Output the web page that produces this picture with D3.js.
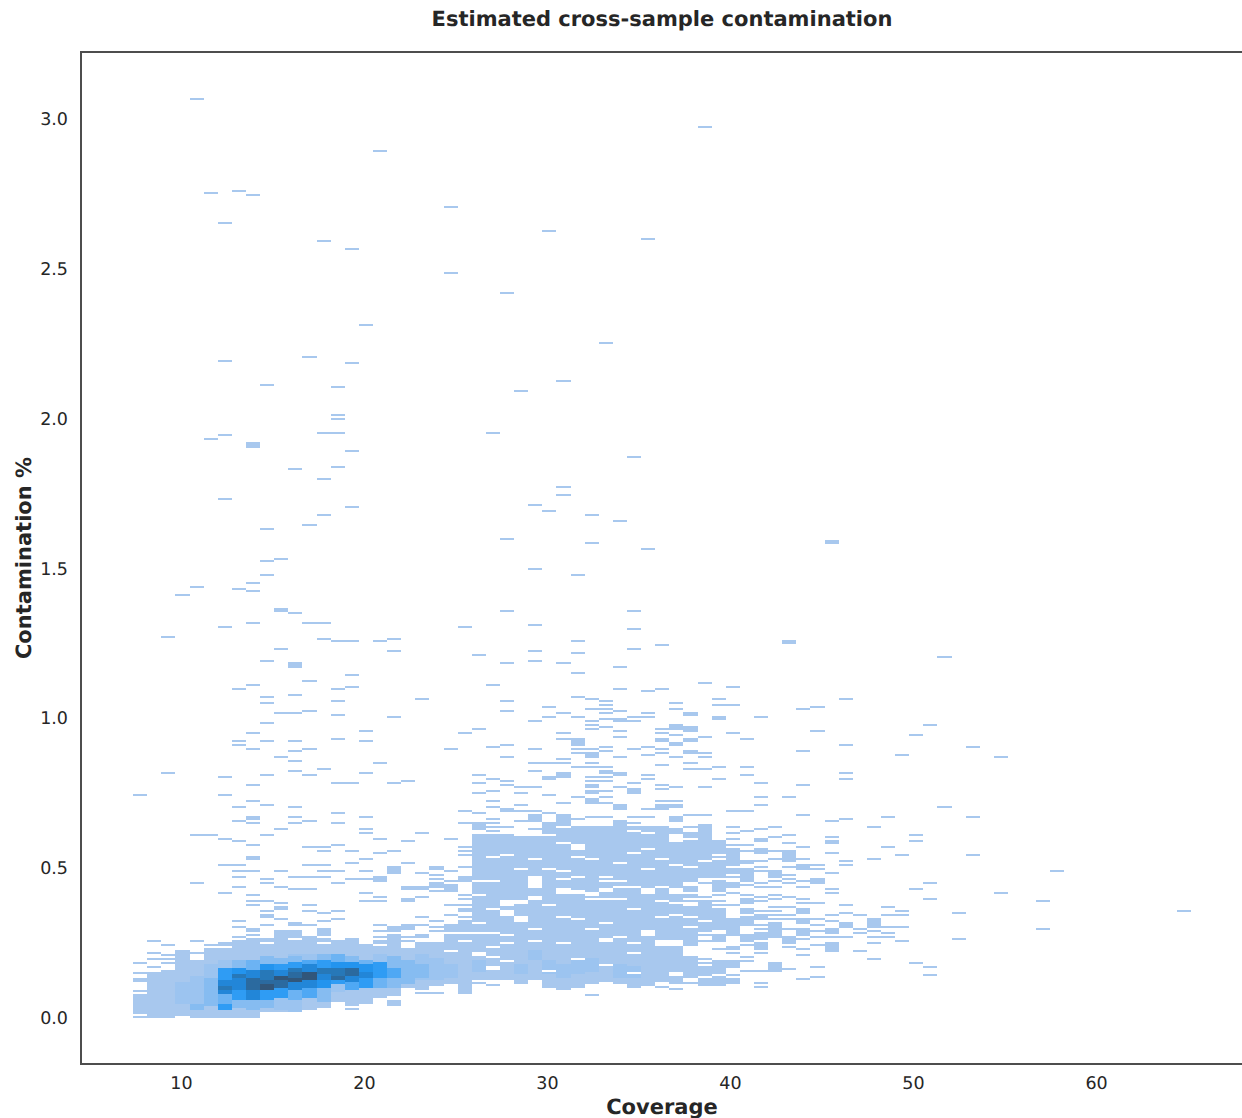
<!DOCTYPE html>
<html lang="en">
<head>
<meta charset="UTF-8">
<title>Estimated cross-sample contamination</title>
<script src="https://cdn.jsdelivr.net/npm/d3@7"></script>
<style>
    html, body { margin: 0; padding: 0; background: #fff; overflow: hidden; }
    text { font-family: "DejaVu Sans", sans-serif; fill: #262626; text-rendering: geometricPrecision; }
    .axis text { font-size: 17.5px; }
    .axis path, .axis line { display: none; }
    .label { font-size: 21px; font-weight: bold; }
</style>
</head>
<body>
<div id="chart"></div>
<script>
// histogram bins
var coverageStart = 7.39, coverageStep = 0.771, contamStep = 0.00667;

var xTicks = [10, 20, 30, 40, 50, 60];
var yTicks = [0, 0.5, 1, 1.5, 2, 2.5, 3];

// contamination of the lone count-1 cells, one list per coverage bin
var singleCells = [
/* 0*/ [.747,.186,.151,.131,.121,.091,.006],
/* 1*/ [.258,.217,.197,.171],
/* 2*/ [1.273,.82,.246,.21,.197,.186],
/* 3*/ [1.413,.008],
/* 4*/ [3.067,1.44,.607,.447,.258,.216],
/* 5*/ [2.753,1.933,.607,.246],
/* 6*/ [2.653,2.193,1.947,1.733,1.307,.807,.747,.6,.513,.42],
/* 7*/ [2.76,1.433,1.1,.927,.913,.707,.66,.593,.513,.493,.467,.437,.324,.304],
/* 8*/ [2.747,1.453,1.427,1.32,1.113,.953,.9,.78,.727,.653,.58,.487,.41,.393,.377,.379,.278],
/* 9*/ [2.113,1.633,1.527,1.48,1.193,1.07,1.053,.987,.927,.813,.713,.61,.463,.45,.393,.36,.312],
/*10*/ [1.533,1.233,1.017,.873,.633,.493,.437,.383,.367,.386,.366,.332],
/*11*/ [1.833,1.353,1.077,1.017,.927,.893,.86,.827,.707,.667,.653,.473,.43,.269],
/*12*/ [2.207,1.647,1.32,1.127,1.027,.9,.813,.66,.573,.513,.473,.43,.377,.379,.36,.312],
/*13*/ [2.593,1.953,1.8,1.68,1.32,1.267,.833,.573,.56,.513,.487,.473,.351,.324,.299,.266,.257,.246],
/*14*/ [2.107,2.013,2,1.953,1.837,1.26,1.1,1.06,1.01,.933,.787,.687,.647,.58,.487,.447,.36,.332],
/*15*/ [2.567,2.187,1.893,1.707,1.26,1.147,1.107,.787,.56,.52,.463,.266,.027],
/*16*/ [2.313,.96,.927,.82,.673,.633,.62,.533,.493,.463,.42,.393,.052],
/*17*/ [2.893,1.26,.853,.6,.553,.403,.393,.313,.291,.273,.26,.249,.068],
/*18*/ [1.267,1.227,1.007,.787,.56,.279],
/*19*/ [.793,.587,.52,.437,.427,.273,.26],
/*20*/ [1.067,.62,.486,.438,.427,.404,.339,.313,.086],
/*21*/ [.48,.465,.421,.323,.302,.293,.086],
/*22*/ [2.706,2.486,.9,.599,.493,.458,.379,.343,.277,.22],
/*23*/ [1.307,.953,.693,.652,.571,.554,.541,.504,.412,.398,.377,.366,.354,.34,.086],
/*24*/ [1.213,.967,.812,.786,.752,.686,.684,.116],
/*25*/ [1.952,1.112,.906,.799,.759,.726,.706,.724,.707,.666,.652,.638,.623,.109],
/*26*/ [2.419,1.599,1.359,1.186,1.059,1.026,.912,.872,.792,.779,.696,.64],
/*27*/ [2.092,.772,.752,.712,.711,.692,.658],
/*28*/ [1.712,1.499,1.312,1.226,1.192,.992,.899,.852,.826,.772,.693,.632],
/*29*/ [2.626,1.692,1.039,1.006,.852,.746,.686,.682,.104],
/*30*/ [2.126,1.772,1.746,1.186,1.018,.952,.932,.866,.852,.719,.679,.677,.096],
/*31*/ [1.479,1.26,1.219,1.152,1.071,1.006,.899,.886,.839,.738,.666,.104],
/*32*/ [1.679,1.586,1.064,1.032,.992,.979,.966,.899,.852,.839,.806,.792,.721,.671,.079],
/*33*/ [2.252,1.059,1.044,1.031,1.018,.998,.972,.906,.892,.839,.806,.792,.759,.738,.719,.718,.671],
/*34*/ [1.659,1.171,1.099,1.026,.959,.939,.872,.772,.712,.704,.699],
/*35*/ [1.872,1.359,1.299,1.232,1.006,.992,.899,.784,.673,.671,.649],
/*36*/ [2.599,1.566,1.092,1.018,1.006,.906,.879,.812,.799,.699,.671],
/*37*/ [1.246,1.099,.966,.952,.899,.886,.846,.779,.766,.726,.724,.707,.104],
/*38*/ [1.052,1.032,.946,.872,.772,.726,.71,.666,.099],
/*39*/ [.889,.852,.832,.679,.638,.118],
/*40*/ [2.973,1.119,.938,.886,.872,.832,.772,.679,.449,.404,.279,.26,.2,.185],
/*41*/ [1.064,1.047,.839,.799,.59,.54,.46,.41,.393,.379,.232],
/*42*/ [1.106,1.044,.952,.692,.638,.619,.599,.577,.566,.473,.419,.379,.219,.141],
/*43*/ [.932,.839,.812,.692,.626,.577,.558,.445,.412,.34,.245,.204,.191,.158],
/*44*/ [1.006,.786,.738,.711,.631,.785,.523,.504,.491,.451,.436,.404,.391,.357,.307,.297,.219,.158,.119,.104],
/*45*/ [.638,.602,.556,.529,.46,.436,.412,.395,.371,.358,.343,.33,.271,.158],
/*46*/ [.738,.611,.585,.504,.478,.464,.449,.402,.371,.343,.329,.296,.24,.162],
/*47*/ [1.033,.893,.78,.779,.679,.569,.531,.458,.44,.398,.386,.262,.232,.212,.132],
/*48*/ [1.04,.96,.512,.499,.386,.327,.312,.288,.269,.245,.171,.139],
/*49*/ [.658,.604,.552,.486,.431,.418,.341,.322,.269],
/*50*/ [1.067,.913,.82,.8,.666,.525,.512,.378,.351,.269],
/*51*/ [.344,.297,.284,.224],
/*52*/ [.638,.531,.293,.271,.251,.198],
/*53*/ [.672,.572,.371,.344,.304,.284,.271],
/*54*/ [.88,.546,.358,.344,.304,.258],
/*55*/ [.947,.611,.591,.431,.186],
/*56*/ [.98,.451,.398,.171,.144],
/*57*/ [1.207,.704],
/*58*/ [.351,.264],
/*59*/ [.907,.672,.546],
/*60*/ [],
/*61*/ [.873,.418],
/*62*/ [],
/*63*/ [],
/*64*/ [.39,.297],
/*65*/ [.49],
/*66*/ [], /*67*/ [], /*68*/ [], /*69*/ [], /*70*/ [], /*71*/ [], /*72*/ [], /*73*/ [],
/*74*/ [.357]
];

// filled stretches per coverage bin: [low, high, count]; later ones win
var runCells = [
/* 0*/ [[.016,.08,1]],
/* 1*/ [[.115,.147,1],[.002,.107,1]],
/* 2*/ [[.088,.16,1],[.002,.082,1]],
/* 3*/ [[.196,.221,1],[.016,.19,1],[.05,.12,2]],
/* 4*/ [[.002,.193,1],[.05,.135,2],[.03,.045,3]],
/* 5*/ [[.002,.227,1],[.071,.177,2],[.043,.132,3]],
/* 6*/ [[.243,.251,1],[.004,.227,1],[.166,.193,2],[.121,.166,6],[.077,.121,8],[.1,.106,9],[.043,.077,4],[.032,.043,6]],
/* 7*/ [[.268,.272,1],[.002,.26,1],[.166,.193,3],[.143,.166,7],[.127,.143,9],[.088,.127,8],[.06,.088,6],[.038,.06,3]],
/* 8*/ [[1.903,1.917,1],[.664,.67,1],[.533,.54,1],[.288,.298,1],[.001,.266,1],[.16,.193,4],[.132,.16,8],[.093,.132,10],[.06,.093,8],[.027,.06,3]],
/* 9*/ [[.254,.266,1],[.335,.345,1],[.021,.246,1],[.204,.21,1],[.177,.204,3],[.154,.177,7],[.121,.154,9],[.107,.121,10],[.093,.107,11],[.06,.093,6],[.038,.06,3]],
/*10*/ [[1.357,1.364,1],[.272,.288,1],[.021,.262,1],[.199,.215,1],[.177,.199,3],[.16,.177,6],[.138,.16,8],[.121,.138,11],[.099,.121,10],[.066,.099,6],[.027,.066,2]],
/*11*/ [[1.17,1.185,1],[.31,.32,1],[.278,.288,1],[.026,.26,1],[.204,.21,2],[.182,.204,3],[.166,.182,6],[.149,.166,9],[.132,.149,10],[.116,.132,11],[.088,.116,8],[.06,.088,4],[.026,.06,2]],
/*12*/ [[.032,.273,1],[.193,.21,2],[.177,.193,5],[.149,.177,8],[.121,.149,11],[.099,.121,8],[.071,.099,5]],
/*13*/ [[.279,.288,1],[.036,.238,1],[.188,.21,3],[.166,.188,6],[.143,.166,9],[.121,.143,8],[.099,.121,7],[.06,.099,3]],
/*14*/ [[.06,.254,1],[.182,.21,4],[.166,.182,7],[.138,.166,9],[.121,.138,10],[.11,.121,6],[.088,.11,2]],
/*15*/ [[.043,.254,1],[.182,.204,3],[.166,.182,7],[.138,.166,10],[.116,.138,8],[.099,.116,5]],
/*16*/ [[.06,.246,1],[.183,.21,1],[.177,.193,4],[.149,.177,7],[.132,.149,8],[.102,.132,6]],
/*17*/ [[.46,.468,1],[.071,.235,1],[.182,.21,2],[.154,.182,6],[.132,.154,6],[.102,.132,4]],
/*18*/ [[.483,.503,1],[.288,.304,1],[.077,.269,1],[.042,.06,1],[.166,.204,3],[.132,.166,5],[.102,.132,3]],
/*19*/ [[.393,.4,1],[.296,.312,1],[.102,.227,1],[.15,.19,3],[.12,.15,3]],
/*20*/ [[.269,.277,1],[.099,.249,1],[.127,.21,2],[.14,.18,3]],
/*21*/ [[.497,.504,1],[.436,.451,1],[.216,.249,1],[.113,.21,1],[.13,.2,2]],
/*22*/ [[.423,.443,1],[.29,.31,1],[.254,.271,1],[.227,.249,1],[.193,.21,1],[.118,.188,1],[.14,.175,2]],
/*23*/ [[.457,.473,1],[.312,.324,1],[.288,.304,1],[.262,.277,1],[.143,.251,1],[.088,.136,1]],
/*24*/ [[.633,.649,1],[.56,.612,1],[.498,.551,1],[.462,.489,1],[.418,.447,1],[.371,.402,1],[.324,.366,1],[.29,.307,1],[.262,.279,1],[.221,.254,1],[.127,.204,1],[.16,.19,2]],
/*25*/ [[.577,.612,1],[.543,.571,1],[.462,.532,1],[.369,.449,1],[.288,.36,1],[.243,.28,1],[.21,.232,1],[.177,.196,1],[.127,.154,1]],
/*26*/ [[.691,.699,1],[.602,.612,1],[.549,.596,1],[.523,.54,1],[.429,.516,1],[.396,.421,1],[.366,.373,1],[.282,.34,1],[.254,.273,1],[.196,.243,1],[.132,.182,1]],
/*27*/ [[.536,.604,1],[.502,.527,1],[.46,.493,1],[.396,.455,1],[.343,.377,1],[.254,.316,1],[.118,.249,1],[.15,.18,2]],
/*28*/ [[.66,.68,1],[.562,.604,1],[.477,.554,1],[.407,.427,1],[.36,.393,1],[.327,.354,1],[.301,.321,1],[.249,.293,1],[.127,.243,1],[.2,.225,2]],
/*29*/ [[.798,.806,1],[.613,.649,1],[.527,.607,1],[.432,.521,1],[.382,.421,1],[.324,.373,1],[.266,.316,1],[.232,.254,1],[.11,.224,1],[.15,.19,2]],
/*30*/ [[.806,.814,1],[.643,.669,1],[.591,.627,1],[.538,.582,1],[.469,.529,1],[.438,.46,1],[.26,.41,1],[.104,.243,1],[.14,.18,2]],
/*31*/ [[.91,.932,1],[.627,.638,1],[.582,.621,1],[.543,.56,1],[.427,.529,1],[.293,.407,1],[.11,.288,1],[.15,.19,2]],
/*32*/ [[.869,.882,1],[.771,.777,1],[.751,.757,1],[.716,.732,1],[.593,.64,1],[.404,.588,1],[.266,.396,1],[.227,.254,1],[.116,.221,1],[.16,.2,2]],
/*33*/ [[.818,.824,1],[.599,.638,1],[.477,.593,1],[.438,.469,1],[.402,.416,1],[.271,.393,1],[.121,.247,1]],
/*34*/ [[.993,1,1],[.811,.817,1],[.643,.66,1],[.616,.638,1],[.462,.607,1],[.443,.455,1],[.404,.429,1],[.299,.396,1],[.21,.288,1],[.116,.204,1],[.14,.18,2]],
/*35*/ [[.751,.766,1],[.627,.638,1],[.443,.616,1],[.371,.432,1],[.299,.36,1],[.221,.288,1],[.104,.21,1],[.14,.17,2]],
/*36*/ [[.623,.64,1],[.571,.613,1],[.438,.554,1],[.299,.416,1],[.24,.271,1],[.11,.227,1]],
/*37*/ [[.925,.933,1],[.699,.712,1],[.618,.638,1],[.443,.616,1],[.393,.432,1],[.343,.382,1],[.266,.327,1],[.121,.238,1]],
/*38*/ [[.966,.98,1],[.91,.92,1],[.705,.713,1],[.654,.669,1],[.616,.627,1],[.46,.584,1],[.432,.449,1],[.393,.413,1],[.349,.377,1],[.299,.338,1],[.266,.288,1],[.16,.238,1],[.118,.14,1]],
/*39*/ [[1.009,1.019,1],[.958,.969,1],[.925,.933,1],[.886,.893,1],[.51,.616,1],[.449,.499,1],[.393,.438,1],[.343,.371,1],[.31,.327,1],[.243,.299,1],[.138,.204,1]],
/*40*/ [[.629,.641,1],[.588,.621,1],[.529,.582,1],[.471,.516,1],[.332,.393,1],[.291,.316,1],[.143,.173,1],[.11,.127,1]],
/*41*/ [[.995,1.002,1],[.549,.582,1],[.471,.521,1],[.423,.447,1],[.297,.366,1],[.254,.28,1],[.177,.193,1],[.149,.168,1],[.11,.138,1]],
/*42*/ [[.51,.554,1],[.482,.499,1],[.436,.447,1],[.277,.332,1],[.227,.24,1],[.169,.188,1],[.116,.129,1]],
/*43*/ [[.516,.526,1],[.454,.499,1],[.382,.399,1],[.349,.366,1],[.308,.327,1],[.254,.277,1]],
/*44*/ [[.588,.599,1],[.549,.566,1],[.329,.343,1],[.262,.284,1],[.227,.251,1]],
/*45*/ [[.469,.493,1],[.277,.319,1],[.162,.182,1]],
/*46*/ [[1.25,1.256,1],[.523,.554,1],[.249,.273,1]],
/*47*/ [[.497,.513,1],[.349,.366,1],[.316,.332,1],[.274,.296,1]],
/*48*/ [[.449,.465,1]],
/*49*/ [[1.584,1.59,1],[.582,.593,1],[.282,.299,1],[.223,.251,1]],
/*50*/ [[.302,.319,1]],
/*51*/ [],
/*52*/ [[.304,.327,1]]
];

// narrow white strips inside the dense part: [bin, contamination]
var emptyCells = [
    [29,.612],[30,.584],[31,.568],[36,.562],[38,.596],[39,.596],
    [32,.418],[32,.41],[32,.399],[33,.399],[34,.399],
    [33,.473],[33,.46],[33,.432],[33,.421],[34,.46],[34,.436],[35,.436],
    [36,.432],[36,.419],[37,.393],[38,.427],[39,.449],[39,.418],[39,.399],
    [35,.366],[37,.336],[38,.343],[36,.284],[36,.278],
    [28,.53],[29,.5],[30,.49],[31,.47],[32,.53],[34,.52],[35,.55],[36,.5],[37,.53],[38,.51],
    [27,.33],[28,.26],[30,.34],[31,.33],[32,.3],[33,.32],[34,.27],[35,.25],[29,.16],[31,.2],[33,.18],[35,.15]
];

var countColors = ["#a8c8ee", "#9cc4f0", "#86bcf1", "#6cb3f3", "#4fa8f4", "#2f9cf4", "#2394ee", "#2286d8", "#2778b8", "#2b6a9f", "#31567a"];

var width = 1242, height = 1118;
var frame = {left: 81, top: 52, right: 1243, bottom: 1064};

var x = d3.scaleLinear().domain([4.54, 68.03]).range([frame.left, frame.right]);
var y = d3.scaleLinear().domain([-0.153, 3.223]).range([frame.bottom, frame.top]);
var color = d3.scaleLinear().domain(d3.range(1, 12)).range(countColors);

// turn lists into one row/count map per bin
var cells = [];
singleCells.forEach(function (vals, bin) {
    var rows = new Map();
    (runCells[bin] || []).forEach(function (r) {
        var a = Math.floor(r[0] / contamStep), b = Math.floor(r[1] / contamStep);
        for (var i = a; i <= b; i++) rows.set(i, r[2]);
    });
    emptyCells.forEach(function (e) {
        if (e[0] === bin) rows.delete(Math.floor(e[1] / contamStep));
    });
    vals.forEach(function (v) {
        var i = Math.floor(v / contamStep);
        if (!rows.has(i)) rows.set(i, 1);
    });
    rows.forEach(function (count, row) {
        cells.push({bin: bin, row: row, count: count});
    });
});

var svg = d3.select("#chart").append("svg")
    .attr("width", width)
    .attr("height", height);

svg.append("defs").append("filter")
    .attr("id", "soft")
    .attr("color-interpolation-filters", "sRGB")
    .append("feGaussianBlur")
    .attr("stdDeviation", 0.3);

svg.append("g")
    .attr("filter", "url(#soft)")
    .attr("shape-rendering", "crispEdges")
    .selectAll("rect")
    .data(cells)
    .enter().append("rect")
    .attr("x", function (d) { return x(coverageStart + d.bin * coverageStep); })
    .attr("width", x(coverageStep) - x(0))
    .attr("y", function (d) { return y((d.row + 1) * contamStep); })
    .attr("height", y(0) - y(contamStep))
    .attr("fill", function (d) { return color(d.count); });

// frame, right side falls just off the page
svg.append("rect")
    .attr("x", frame.left)
    .attr("y", frame.top)
    .attr("width", frame.right - frame.left)
    .attr("height", frame.bottom - frame.top)
    .attr("fill", "none")
    .attr("stroke", "#4d4d4d")
    .attr("stroke-width", 2);

svg.append("g")
    .attr("class", "axis")
    .attr("transform", "translate(0," + frame.bottom + ")")
    .call(d3.axisBottom(x).tickValues(xTicks).tickSize(0).tickPadding(13));

svg.append("g")
    .attr("class", "axis")
    .attr("transform", "translate(" + frame.left + ",0)")
    .call(d3.axisLeft(y).tickValues(yTicks).tickSize(0).tickPadding(13).tickFormat(d3.format(".1f")));

svg.append("text")
    .attr("class", "label")
    .attr("x", 662).attr("y", 26)
    .attr("text-anchor", "middle")
    .text("Estimated cross-sample contamination");

svg.append("text")
    .attr("class", "label")
    .attr("x", 662).attr("y", 1114)
    .attr("text-anchor", "middle")
    .text("Coverage");

svg.append("text")
    .attr("class", "label")
    .attr("transform", "translate(31,558) rotate(-90)")
    .attr("text-anchor", "middle")
    .text("Contamination %");
</script>
</body>
</html>
